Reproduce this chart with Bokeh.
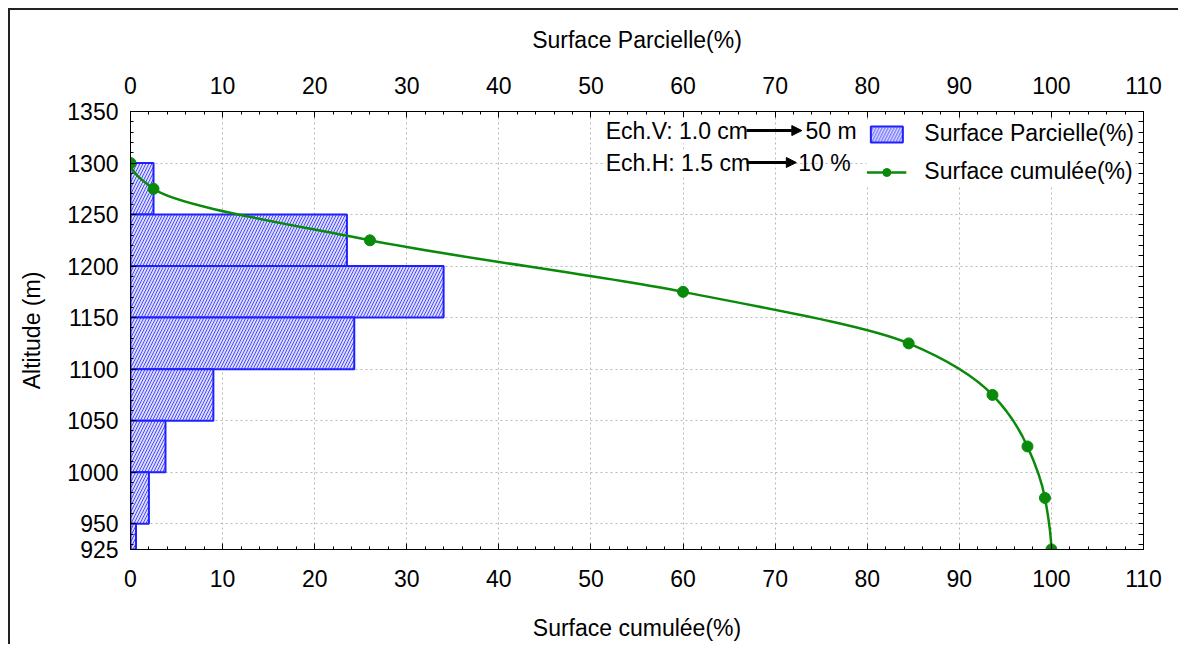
import numpy as np
from bokeh.plotting import figure
from bokeh.models import (LinearAxis, FixedTicker, Range1d, Label, Arrow, NormalHead,
                          Legend, LegendItem, ColumnDataSource)
from bokeh.embed import file_html
from bokeh.resources import INLINE

# ---------------- data ----------------
bin_low = [1250, 1200, 1150, 1100, 1050, 1000, 950, 925]
bin_high = [1300, 1250, 1200, 1150, 1100, 1050, 1000, 950]
surface_parcielle = [2.5, 23.5, 34.0, 24.3, 9.0, 3.8, 2.0, 0.6]

cum_altitude = [1300, 1275, 1225, 1175, 1125, 1075, 1025, 975, 925]
surface_cumulee = [0.0, 2.5, 26.0, 60.0, 84.5, 93.6, 97.4, 99.3, 100.0]

x_ticks = [0, 10, 20, 30, 40, 50, 60, 70, 80, 90, 100, 110]
y_ticks = [925, 950, 1000, 1050, 1100, 1150, 1200, 1250, 1300, 1350]

FONT = "Liberation Sans"
FS = "23px"

# ---------------- smooth monotone curve (bezier segments through the points) ----------------
ys = np.array(cum_altitude[::-1], dtype=float)
xs = np.array(surface_cumulee[::-1], dtype=float)
h = np.diff(ys)
d = np.diff(xs) / h
n = len(xs)
m = np.zeros(n)
for i in range(1, n - 1):
    if d[i - 1] * d[i] <= 0:
        m[i] = 0.0
    else:
        w1 = 2 * h[i] + h[i - 1]
        w2 = h[i] + 2 * h[i - 1]
        m[i] = (w1 + w2) / (w1 / d[i - 1] + w2 / d[i])
def _end(h0, h1, d0, d1):
    v = ((2 * h0 + h1) * d0 - h0 * d1) / (h0 + h1)
    if np.sign(v) != np.sign(d0):
        v = 0.0
    return v
m[0] = _end(h[0], h[1], d[0], d[1])
m[-1] = _end(h[-1], h[-2], d[-1], d[-2])

bz = dict(x0=xs[:-1], y0=ys[:-1], x1=xs[1:], y1=ys[1:],
          cx0=xs[:-1] + m[:-1] * h / 3, cy0=ys[:-1] + h / 3,
          cx1=xs[1:] - m[1:] * h / 3, cy1=ys[1:] - h / 3)

# ---------------- figure ----------------
p = figure(width=1170, height=636, output_backend="svg", toolbar_location=None,
           x_range=Range1d(0, 110), y_range=Range1d(925, 1350),
           x_axis_location="below", y_axis_location="left",
           min_border_left=120, min_border_top=101, min_border_right=37, min_border_bottom=97)
p.styles = {"border-top": "2px solid #222", "border-left": "2px solid #222",
            "margin-left": "8px", "margin-top": "8px"}
p.outline_line_color = "black"
p.background_fill_color = "white"
p.border_fill_color = "white"

x_minor = [v for v in range(0, 111, 2) if v % 10]
y_minor = [v for v in range(930, 1350, 10) if v % 50]

def style_axis(ax, kind):
    ax.ticker = FixedTicker(ticks=x_ticks if kind == "x" else y_ticks,
                            minor_ticks=x_minor if kind == "x" else y_minor)
    ax.axis_line_color = "black"
    ax.major_tick_in = 6
    ax.major_tick_out = 0
    ax.minor_tick_in = 3
    ax.minor_tick_out = 0
    ax.major_tick_line_color = "black"
    ax.minor_tick_line_color = "black"
    ax.major_label_text_font = FONT
    ax.major_label_text_font_size = FS
    ax.major_label_text_color = "black"
    ax.axis_label_text_font = FONT
    ax.axis_label_text_font_size = FS
    ax.axis_label_text_font_style = "normal"
    ax.axis_label_text_color = "black"

xb = p.xaxis[0]
style_axis(xb, "x")
xb.axis_label = "Surface cumulée(%)"
xb.major_label_standoff = 20
xb.axis_label_standoff = 25

yl = p.yaxis[0]
style_axis(yl, "y")
yl.axis_label = "Altitude (m)"
yl.major_label_standoff = 12
yl.axis_label_standoff = 19

xt = LinearAxis(axis_label="Surface Parcielle(%)")
style_axis(xt, "x")
xt.major_label_standoff = 18
xt.axis_label_standoff = 21
p.add_layout(xt, "above")

# right side: ticks only (no labels)
yr = LinearAxis()
yr.ticker = FixedTicker(ticks=[], minor_ticks=sorted(y_ticks + y_minor))
yr.axis_line_color = "black"
yr.minor_tick_in = 5
yr.minor_tick_out = 0
yr.minor_tick_line_color = "black"
p.add_layout(yr, "right")

for g in (p.xgrid[0], p.ygrid[0]):
    g.grid_line_color = "#b8b8b8"
    g.grid_line_dash = "2 3"
    g.grid_line_width = 1
p.xgrid[0].ticker = FixedTicker(ticks=x_ticks)
p.ygrid[0].ticker = FixedTicker(ticks=y_ticks)

# ---------------- bars ----------------
bars = p.quad(left=0, right=surface_parcielle, bottom=bin_low, top=bin_high,
              fill_color="#dcdcff", fill_alpha=1.0, line_color="#2020ff", line_width=2,
              hatch_pattern="right_diagonal_line", hatch_color="#4a4aff", hatch_scale=6,
              hatch_weight=1)

# ---------------- cumulative curve ----------------
curve = p.bezier(source=ColumnDataSource(bz), x0="x0", y0="y0", x1="x1", y1="y1",
                 cx0="cx0", cy0="cy0", cx1="cx1", cy1="cy1",
                 line_color="#0a8a0a", line_width=2.5)
pts = p.scatter(x=surface_cumulee, y=cum_altitude, marker="circle", size=11,
                fill_color="#0a8a0a", line_color="#0a8a0a")

legend = Legend(items=[LegendItem(label="Surface Parcielle(%)", renderers=[bars]),
                       LegendItem(label="Surface cumulée(%)", renderers=[curve, pts])],
                location="top_right")
legend.label_text_font = FONT
legend.label_text_font_size = FS
legend.label_text_color = "black"
legend.border_line_color = None
legend.background_fill_color = "white"
legend.background_fill_alpha = 1.0
legend.glyph_width = 40
legend.glyph_height = 20
legend.label_standoff = 18
legend.spacing = 11
legend.padding = 4
legend.margin = 9
p.add_layout(legend)

# ---------------- scale annotations ----------------
for txt, yv, x_arrow_end, x_right, right_txt in [("Ech.V: 1.0 cm", 1331.5, 72.9, 73.3, "50 m"),
                                                 ("Ech.H: 1.5 cm", 1300.5, 72.3, 72.5, "10 %")]:
    p.add_layout(Label(x=51.6, y=yv, text=txt, text_font=FONT, text_font_size=FS,
                       text_baseline="middle", text_color="black",
                       background_fill_color="white", background_fill_alpha=1.0))
    p.add_layout(Arrow(x_start=66.9, y_start=yv, x_end=x_arrow_end, y_end=yv,
                       line_color="black", line_width=3,
                       end=NormalHead(size=10, fill_color="black", line_color="black")))
    p.add_layout(Label(x=x_right, y=yv, text=right_txt, text_font=FONT, text_font_size=FS,
                       text_baseline="middle", text_color="black"))

open("out.html", "w").write(file_html(p, INLINE))
